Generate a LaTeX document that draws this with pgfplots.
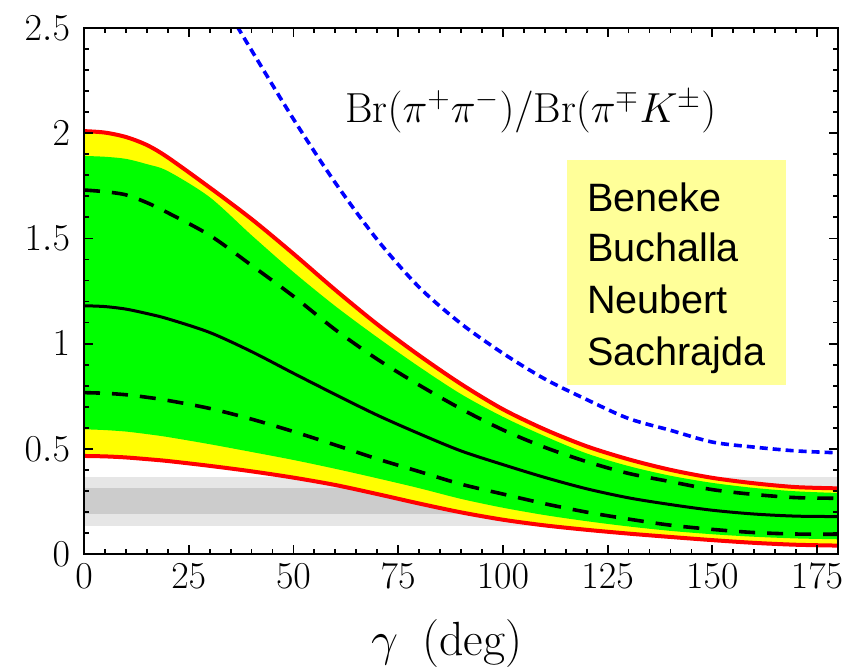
\RequirePackage{fix-cm}
\documentclass[border=0pt]{standalone}
\usepackage{fontspec}
\usepackage{pgfplots}
\usepackage{pgfplotstable}
\pgfplotsset{compat=1.18}
\usepgfplotslibrary{fillbetween}
\newfontfamily\namesfont{Liberation Sans}

\definecolor{bandyellow}{RGB}{255,255,0}
\definecolor{bandgreen}{RGB}{0,255,0}
\definecolor{boxyellow}{RGB}{255,255,153}
\definecolor{lightband}{RGB}{230,230,230}
\definecolor{darkband}{RGB}{204,204,204}

% gamma (deg); outer band (UR/LR), inner band (UG/LG), dashed (UD/LD), central value (C)
\pgfplotstableread{
g    UR     UG     UD     C      LD     LG     LR
0    2.010  1.892  1.730  1.180  0.767  0.593  0.466
5    2.003  1.888  1.722  1.176  0.764  0.589  0.464
10   1.982  1.878  1.707  1.164  0.757  0.582  0.459
15   1.944  1.853  1.670  1.143  0.745  0.570  0.451
20   1.885  1.820  1.622  1.118  0.730  0.556  0.442
30   1.742  1.696  1.515  1.053  0.692  0.522  0.419
40   1.592  1.515  1.372  0.962  0.641  0.485  0.393
50   1.427  1.340  1.225  0.859  0.582  0.447  0.363
60   1.255  1.178  1.066  0.758  0.518  0.405  0.328
70   1.092  1.030  0.926  0.660  0.452  0.360  0.285
80   0.944  0.890  0.803  0.572  0.392  0.313  0.240
90   0.808  0.760  0.690  0.490  0.332  0.262  0.198
100  0.688  0.652  0.590  0.425  0.285  0.220  0.163
110  0.592  0.560  0.507  0.364  0.239  0.185  0.136
120  0.512  0.478  0.439  0.310  0.199  0.156  0.115
130  0.450  0.418  0.383  0.267  0.166  0.131  0.097
140  0.400  0.372  0.344  0.235  0.137  0.110  0.081
150  0.362  0.338  0.306  0.208  0.117  0.094  0.066
160  0.336  0.314  0.283  0.190  0.102  0.082  0.053
170  0.318  0.298  0.268  0.180  0.095  0.074  0.044
180  0.312  0.290  0.265  0.178  0.094  0.070  0.040
}\bands

% reference curve (blue, dashed)
\pgfplotstableread{
g    R
35   2.560
40   2.394
50   2.067
60   1.764
70   1.494
80   1.268
90   1.095
100  0.954
110  0.832
120  0.734
130  0.644
140  0.588
150  0.532
160  0.508
170  0.490
180  0.481
}\refcurve

\tikzset{names/.style={anchor=base west, inner sep=0pt,
  font=\namesfont\fontsize{19.8}{24}\selectfont}}

\begin{document}
\begin{tikzpicture}
\begin{axis}[
  at={(0,0)}, anchor=south west,
  scale only axis, width=377pt, height=263pt,
  xmin=0, xmax=180, ymin=0, ymax=2.5,
  xtick={0,25,50,75,100,125,150,175}, minor x tick num=4,
  ytick={0,0.5,1,1.5,2,2.5}, minor y tick num=4,
  tick align=inside,
  major tick length=4.5pt, minor tick length=2.5pt,
  every tick/.style={black, line width=0.9pt},
  axis line style={line width=1.4pt},
  set layers, axis on top,
  ticklabel style={font=\fontsize{19}{22}\selectfont},
  yticklabel style={xshift=-3.5pt},
  xticklabel style={yshift=-1.5pt},
  xlabel={$\gamma$\enspace(deg)},
  xlabel style={font=\fontsize{24}{28}\selectfont,
    at={(axis description cs:0.481,0)}, anchor=base, yshift=-50.5pt},
]
% experimental bands, kept behind the theory bands
\addplot[draw=none, fill=lightband, on layer=axis background]
  coordinates {(0,0.135) (180,0.135) (180,0.367) (0,0.367)} -- cycle;
\addplot[draw=none, fill=darkband, on layer=axis background]
  coordinates {(0,0.19) (180,0.19) (180,0.315) (0,0.315)} -- cycle;

% boundaries of the theory bands
\addplot[draw=none, name path=ur, smooth] table[x=g, y=UR] {\bands};
\addplot[draw=none, name path=lr, smooth] table[x=g, y=LR] {\bands};
\addplot[draw=none, name path=ug, smooth] table[x=g, y=UG] {\bands};
\addplot[draw=none, name path=lg, smooth] table[x=g, y=LG] {\bands};
\addplot[bandyellow] fill between[of=ur and lr];
\addplot[bandgreen] fill between[of=ug and lg];

% curves
\addplot[red, line width=2pt, smooth] table[x=g, y=UR] {\bands};
\addplot[red, line width=2pt, smooth] table[x=g, y=LR] {\bands};
\addplot[black, line width=1.8pt, dash pattern=on 8pt off 6pt, smooth] table[x=g, y=UD] {\bands};
\addplot[black, line width=1.8pt, dash pattern=on 8pt off 6pt, smooth] table[x=g, y=LD] {\bands};
\addplot[black, line width=1.5pt, smooth] table[x=g, y=C] {\bands};
\addplot[blue, line width=1.8pt, dash pattern=on 4pt off 2.5pt, smooth] table[x=g, y=R] {\refcurve};

% labels
\node[anchor=base west, inner sep=0pt, font=\fontsize{21}{25}\selectfont]
  at (axis cs:62.3,2.05) {$\mathrm{Br}(\pi^+\pi^-)/\mathrm{Br}(\pi^\mp K^\pm)$};
\fill[boxyellow] (axis cs:115.2,0.803) rectangle (axis cs:167.7,1.873);
\node[names] at (axis cs:120,1.627) {Beneke};
\node[names] at (axis cs:120,1.389) {Buchalla};
\node[names] at (axis cs:120,1.144) {Neubert};
\node[names] at (axis cs:120,0.898) {Sachrajda};
\end{axis}
\pgfresetboundingbox
\useasboundingbox (-42pt,-58.5pt) rectangle (382.5pt,277pt);
\end{tikzpicture}
\end{document}
